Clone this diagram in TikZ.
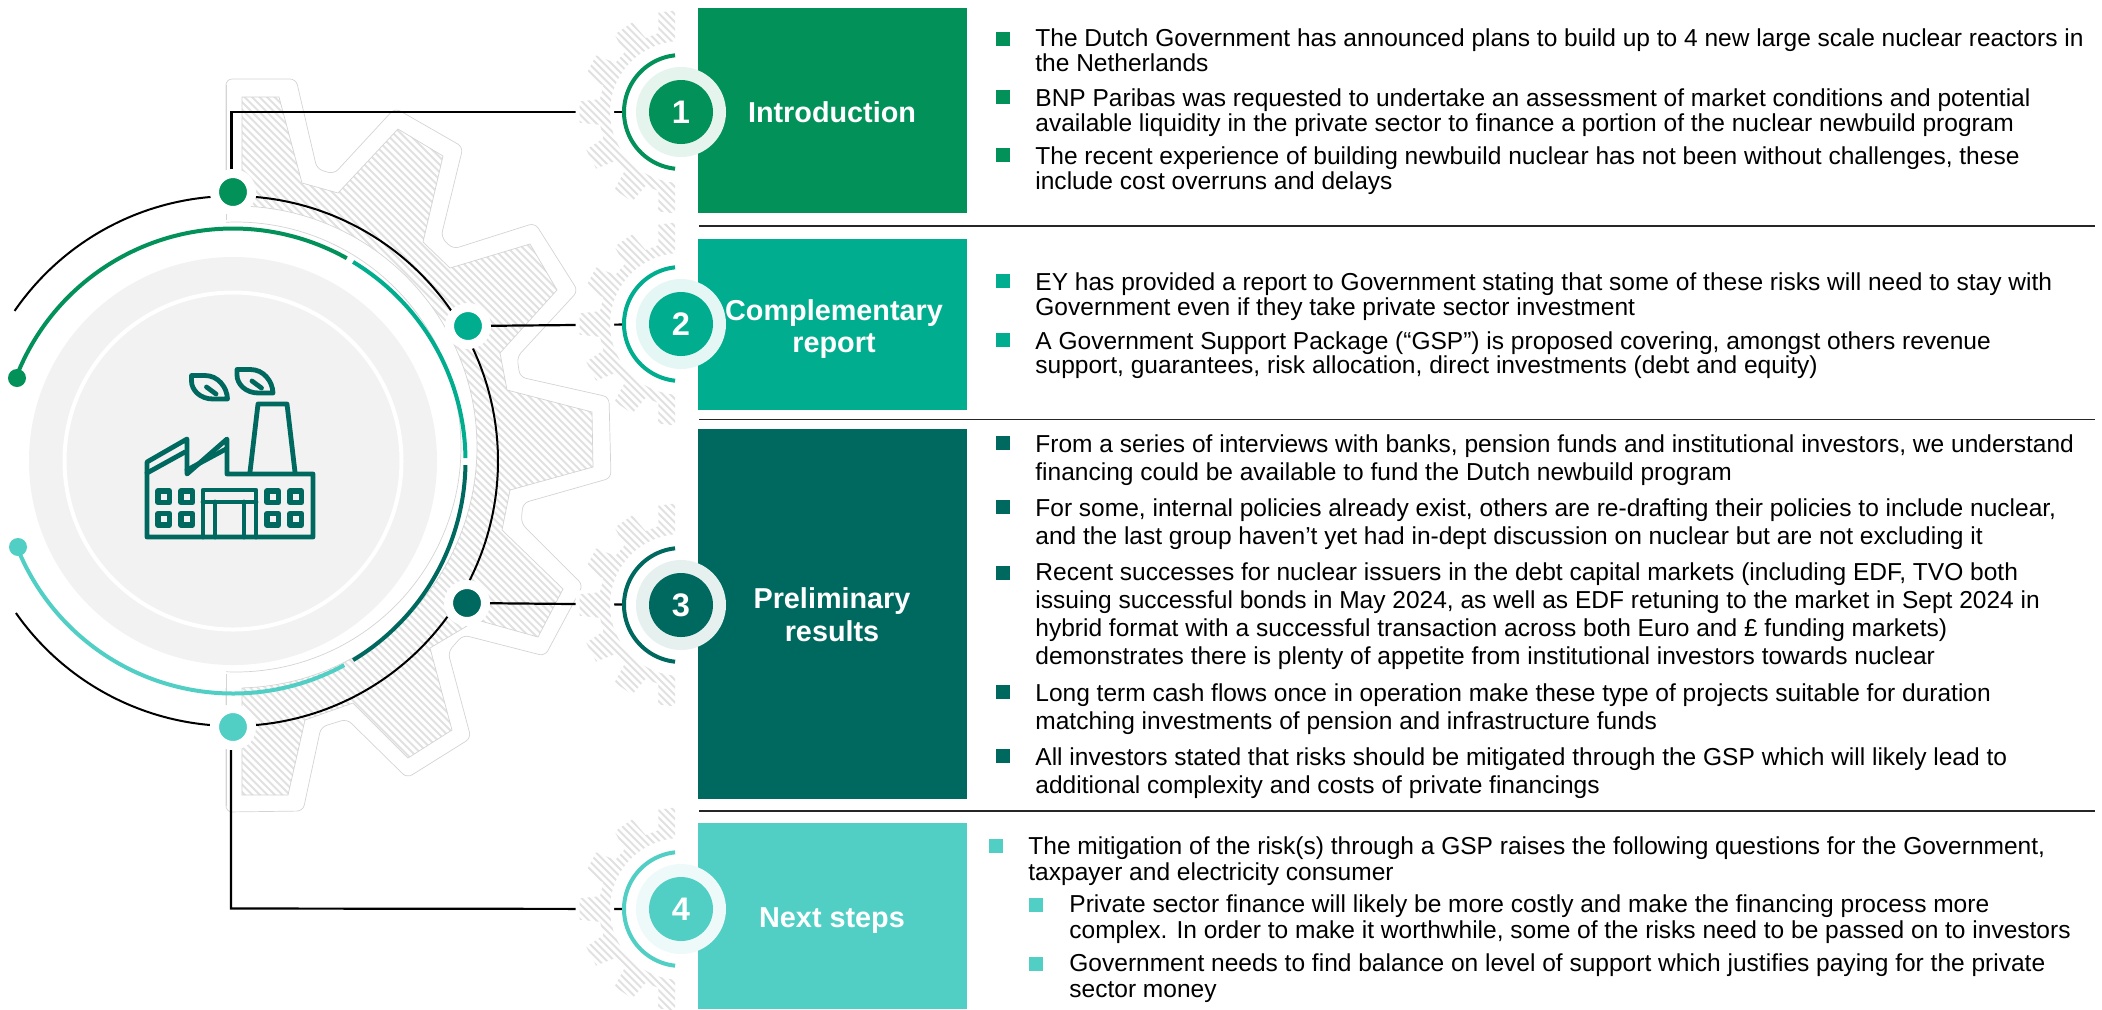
\documentclass[tikz,border=0pt]{standalone}
\usepackage{fontspec}
\setmainfont{Liberation Sans}
\definecolor{cA}{HTML}{03915A}
\definecolor{cB}{HTML}{00AD8E}
\definecolor{cC}{HTML}{00695F}
\definecolor{cD}{HTML}{52CFC5}
\definecolor{hatchcol}{HTML}{E1E1E1}
\definecolor{edgecol}{HTML}{D4D4D4}
\definecolor{discgray}{HTML}{F2F2F2}
\tikzset{
  body/.style={anchor=base west,inner sep=0pt,font=\fontsize{12.26}{14}\selectfont,text=black},
  lbl/.style={anchor=base,inner sep=0pt,text=white,font=\fontsize{14.4}{16}\selectfont\bfseries},
  num/.style={circle,inner sep=0pt,text=white,font=\fontsize{16.3}{18}\selectfont\bfseries,minimum size=32pt},
  halo/.style={circle,fill=white,inner sep=0pt,outer sep=0pt,minimum size=56pt},
  ringst/.style={circle,inner sep=0pt,outer sep=0pt,minimum size=45pt},
  dotst/.style={circle,draw=white,line width=4.5pt,minimum size=18.5pt,inner sep=0pt},
  sdot/.style={circle,inner sep=0pt,minimum size=9pt},
  bul/.style={inner sep=0pt,minimum size=7pt},
  boxst/.style={inner sep=0pt,outer sep=0pt,minimum width=134.35pt},
  conn/.style={draw=black,line width=1.1pt},
  divider/.style={draw=black!85,line width=0.7pt},
  arcK/.style={draw=black,line width=1pt},
  hatchline/.style={draw=hatchcol,line width=1pt},
  thinedge/.style={draw=edgecol,line width=0.35pt},
  icon/.style={draw=cC,line width=2.4pt,line join=round,line cap=round}
}
\newcommand\bigarc[4]{\draw[#1,domain=#3:#4,samples=100,variable=\t] plot ({233+#2*cos(\t)},{461-#2*sin(\t)});}
\newcommand\gearpoly[1]{({681+82*cos(171)},{#1-82*sin(171)}) \foreach \k [evaluate=\k as \a using 180+\k*27.69] in {0,...,12}{ -- ({681+82*cos(\a-9)},{#1-82*sin(\a-9)}) -- ({681+102*cos(\a-6)},{#1-102*sin(\a-6)}) -- ({681+102*cos(\a+6)},{#1-102*sin(\a+6)}) -- ({681+82*cos(\a+9)},{#1-82*sin(\a+9)})} -- cycle}
\newcommand\smallgear[1]{%
  \begin{scope}
    \clip (560,#1-110) rectangle (675,#1+110);
    \fill[white,draw=white,line width=4pt,even odd rule] \gearpoly{#1} (681,#1) circle[radius=35.5pt];
    \begin{scope}[even odd rule]
      \clip \gearpoly{#1} (681,#1) circle[radius=35.5pt];
      \foreach \i in {340,347.5,...,690}{\draw[hatchline] (\i,#1-110) -- (\i+220,#1+110);}
    \end{scope}
  \end{scope}}
\newcommand\badgearc[2]{\draw[#2,line width=2pt,domain=96:264,samples=50,variable=\t] plot ({681+57*cos(\t)},{#1-57*sin(\t)});}
\begin{document}
\begin{tikzpicture}[x=0.5pt,y=-0.5pt]
\useasboundingbox (0,0) rectangle (2102,1009);
% big gear
\def\outerpoly{(226,79) -- (296,79) -- (317,169) -- (334,174) -- (395,108) -- (463,147) -- (441,237) -- (453,249) -- (535,223) -- (578,291) -- (517,357) -- (520,377) -- (609,397) -- (611,478) -- (523,503) -- (521,523) -- (583,585) -- (545,656) -- (463,635) -- (448,652) -- (471,738) -- (407,778) -- (347,719) -- (321,727) -- (303,811) -- (226,812) -- cycle}
\def\innerpoly{(242,97) -- (279,97) -- (302,183) -- (338,193) -- (398,129) -- (443,156) -- (423,242) -- (450,268) -- (530,244) -- (557,290) -- (500,353) -- (507,390) -- (592,412) -- (593,467) -- (510,490) -- (502,530) -- (563,589) -- (538,637) -- (477,620) -- (430,648) -- (452,730) -- (408,758) -- (353,703) -- (305,720) -- (288,795) -- (242,795) -- cycle}
\draw[thinedge,fill=white,rounded corners=3pt] \outerpoly;
\begin{scope}
  \clip \innerpoly;
  \foreach \i in {-560,-552.5,...,650}{\draw[hatchline] (\i,80) -- (\i+740,820);}
\end{scope}
\draw[thinedge] \innerpoly;
\fill[white] (236,447) circle[radius=120.5pt];
\draw[thinedge,domain=88.6:-88.6,samples=100,variable=\t] plot ({236+241*cos(\t)},{447-241*sin(\t)});
\draw[thinedge,domain=92.5:-92.5,samples=100,variable=\t] plot ({236+225*cos(\t)},{447-225*sin(\t)});
\draw[thinedge] (226,85) -- (226,220) (226,674) -- (226,806);
% central disc
\fill[discgray] (233,461) circle[radius=102pt];
\draw[white,line width=2pt] (233,461) circle[radius=84.25pt];
% factory icon
\draw[icon] (147,462) -- (187,439) -- (187,474) -- (227,439) -- (227,474) -- (313,474) -- (313,537) -- (147,537) -- cycle;
\draw[icon] (147,473) -- (185,452) (187,470) -- (226,449);
\draw[icon] (250,472) -- (258,404) -- (287,404) -- (295,472);
\draw[icon] (203,537) -- (203,490) -- (256,490) -- (256,537) (203,502) -- (256,502) (215,502) -- (215,537) (244,502) -- (244,537);
\foreach \xx in {163.7,186.7,272.7,295.7}{\foreach \yy in {496.7,519.3}{
  \draw[icon,line width=2.7pt] (\xx-5.7,\yy-5.7) rectangle (\xx+5.7,\yy+5.7);}}
\foreach \sh/\sv in {0/0,45.5/-6}{
  \begin{scope}[shift={(\sh,\sv)}]
  \draw[icon] (191.5,375.5) -- (205,375.5) .. controls (218,375.5) and (227,387) .. (227.5,399) -- (213,399) .. controls (200,399) and (191.5,390) .. (191.5,381) -- cycle;
  \draw[icon] (206.5,387) -- (216,394);
  \end{scope}}
% rings
\bigarc{draw=cA,line width=2pt}{232.5}{159}{60.7}
\bigarc{draw=cB,line width=2pt}{232.5}{58.9}{0.7}
\bigarc{draw=cC,line width=2pt}{232.5}{-1}{-58.9}
\bigarc{draw=cD,line width=2pt}{232.5}{-61.4}{-158.2}
\bigarc{arcK}{265}{145.5}{94.5}
\bigarc{arcK}{265}{85}{34.6}
\bigarc{arcK}{265}{25.2}{-27}
\bigarc{arcK}{265}{-36}{-85}
\bigarc{arcK}{265}{-95}{-145}
\node[sdot,fill=cA] (ldot1) at (17,378) {};
\node[sdot,fill=cD] (ldot2) at (18,547) {};
% dots
\node[dotst,fill=cA] (d1) at (233,192) {};
\node[dotst,fill=cB] (d2) at (468,326) {};
\node[dotst,fill=cC] (d3) at (467,603) {};
\node[dotst,fill=cD] (d4) at (233,727) {};
% badge halos
\node[halo] (b1) at (681,112) {};
\node[halo] (b2) at (681,324) {};
\node[halo] (b3) at (681,605) {};
\node[halo] (b4) at (681,909) {};
% connectors
\coordinate (c1a) at (231.5,112);
\coordinate (c4a) at (231,908.5);
\draw[conn] (d1.north -| c1a) -- (c1a) -- (b1);
\draw[conn] (d2) -- (b2);
\draw[conn] (d3) -- (b3);
\draw[conn] (d4.south -| c4a) -- (c4a) -- (b4);
% small gears
\smallgear{112}
\smallgear{324}
\smallgear{605}
\smallgear{909}
\badgearc{112}{cA}
\badgearc{324}{cB}
\badgearc{605}{cC}
\badgearc{909}{cD}
% boxes
\node[boxst,fill=cA,minimum height=102.5pt] (box1) at (832.35,110.5) {};
\node[boxst,fill=cB,minimum height=85.5pt] (box2) at (832.35,324.5) {};
\node[boxst,fill=cC,minimum height=185pt] (box3) at (832.35,614) {};
\node[boxst,fill=cD,minimum height=93pt] (box4) at (832.35,916) {};
% badges
\node[ringst,fill=cA!10] (r1) at (b1) {};
\node[ringst,fill=cB!10] (r2) at (b2) {};
\node[ringst,fill=cC!10] (r3) at (b3) {};
\node[ringst,fill=cD!10] (r4) at (b4) {};
\node[num,fill=cA] (n1) at (b1) {1};
\node[num,fill=cB] (n2) at (b2) {2};
\node[num,fill=cC] (n3) at (b3) {3};
\node[num,fill=cD] (n4) at (b4) {4};
% box labels
\node[lbl] (l1) at (832,122) {Introduction};
\node[lbl] (l2a) at (834,320) {Complementary};
\node[lbl] (l2b) at (834,352) {report};
\node[lbl] (l3a) at (832,608) {Preliminary};
\node[lbl] (l3b) at (832,641) {results};
\node[lbl] (l4) at (832,927) {Next steps};
% dividers
\coordinate (e1) at (2095,226);
\coordinate (e2) at (2095,419.5);
\coordinate (e3) at (2095,811);
\draw[divider] (699,226) -- (e1);
\draw[divider] (699,419.5) -- (e2);
\draw[divider] (699,811) -- (e3);
% section 1
\node[bul,fill=cA] (s11) at (1003,38.5) {};
\node[bul,fill=cA] (s12) at (1003,97) {};
\node[bul,fill=cA] (s13) at (1003,155) {};
\node[body] (t11) at (1035,46.7) {The Dutch Government has announced plans to build up to 4 new large scale nuclear reactors in};
\node[body] (t12) at (1035,71.7) {the Netherlands};
\node[body] (t13) at (1035,106) {BNP Paribas was requested to undertake an assessment of market conditions and potential};
\node[body] (t14) at (1035,131) {available liquidity in the private sector to finance a portion of the nuclear newbuild program};
\node[body] (t15) at (1035,164) {The recent experience of building newbuild nuclear has not been without challenges, these};
\node[body] (t16) at (1035,189) {include cost overruns and delays};
% section 2
\node[bul,fill=cB] (s21) at (1003,281) {};
\node[bul,fill=cB] (s22) at (1003,340) {};
\node[body] (t21) at (1035,290) {EY has provided a report to Government stating that some of these risks will need to stay with};
\node[body] (t22) at (1035,315) {Government even if they take private sector investment};
\node[body] (t23) at (1035,349) {A Government Support Package (“GSP”) is proposed covering, amongst others revenue};
\node[body] (t24) at (1035,373.6) {support, guarantees, risk allocation, direct investments (debt and equity)};
% section 3
\node[bul,fill=cC] (s31) at (1003,443) {};
\node[bul,fill=cC] (s32) at (1003,507) {};
\node[bul,fill=cC] (s33) at (1003,572.5) {};
\node[bul,fill=cC] (s34) at (1003,692) {};
\node[bul,fill=cC] (s35) at (1003,756) {};
\node[body] (t31) at (1035,452) {From a series of interviews with banks, pension funds and institutional investors, we understand};
\node[body] (t32) at (1035,480) {financing could be available to fund the Dutch newbuild program};
\node[body] (t33) at (1035,516.6) {For some, internal policies already exist, others are re-drafting their policies to include nuclear,};
\node[body] (t34) at (1035,544) {and the last group haven’t yet had in-dept discussion on nuclear but are not excluding it};
\node[body] (t35) at (1035,580.6) {Recent successes for nuclear issuers in the debt capital markets (including EDF, TVO both};
\node[body] (t36) at (1035,608.6) {issuing successful bonds in May 2024, as well as EDF retuning to the market in Sept 2024 in};
\node[body] (t37) at (1035,636) {hybrid format with a successful transaction across both Euro and £ funding markets)};
\node[body] (t38) at (1035,664) {demonstrates there is plenty of appetite from institutional investors towards nuclear};
\node[body] (t39) at (1035,701) {Long term cash flows once in operation make these type of projects suitable for duration};
\node[body] (t310) at (1035,729) {matching investments of pension and infrastructure funds};
\node[body] (t311) at (1035,765) {All investors stated that risks should be mitigated through the GSP which will likely lead to};
\node[body] (t312) at (1035,793) {additional complexity and costs of private financings};
% section 4
\node[bul,fill=cD] (s41) at (996,846) {};
\node[bul,fill=cD] (s42) at (1036,905) {};
\node[bul,fill=cD] (s43) at (1036,963.5) {};
\node[body] (t41) at (1028,854) {The mitigation of the risk(s) through a GSP raises the following questions for the Government,};
\node[body] (t42) at (1028,880) {taxpayer and electricity consumer};
\node[body] (t43) at (1069,912) {Private sector finance will likely be more costly and make the financing process more};
\node[body] (t44) at (1069,938) {complex. In order to make it worthwhile, some of the risks need to be passed on to investors};
\node[body] (t45) at (1069,971) {Government needs to find balance on level of support which justifies paying for the private};
\node[body] (t46) at (1069,997) {sector money};
\end{tikzpicture}
\end{document}
